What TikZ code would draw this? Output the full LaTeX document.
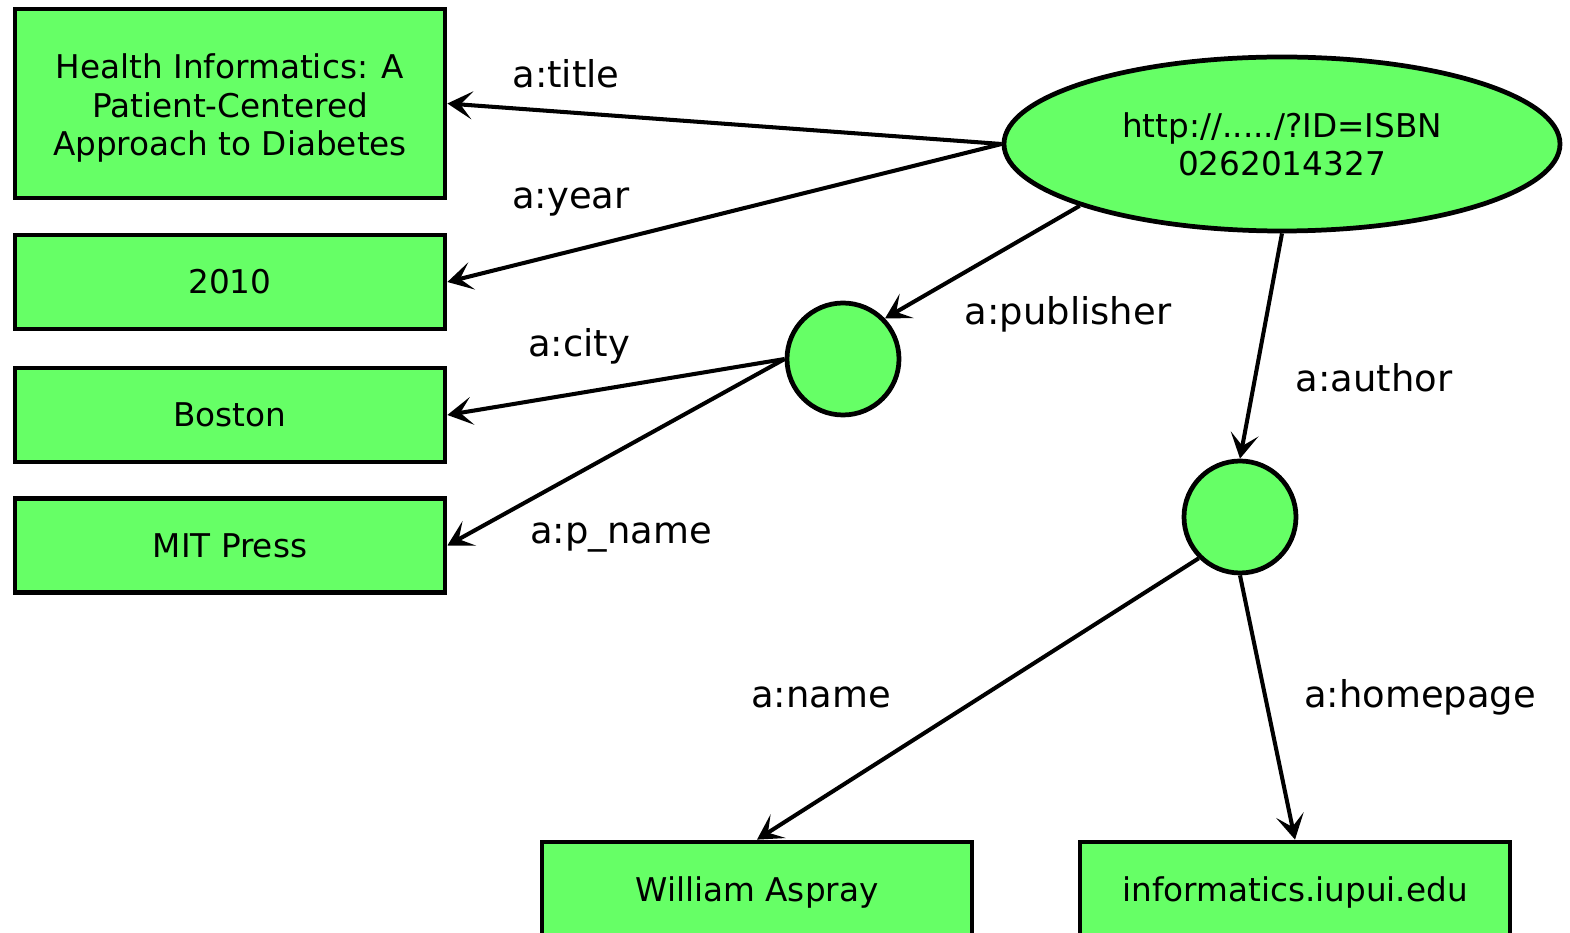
\documentclass[tikz,border=0pt]{standalone}
\usepackage{fontspec}
\setmainfont{DejaVu Sans}
\usetikzlibrary{arrows.meta,shapes.geometric}
\definecolor{nodegreen}{HTML}{66FF66}
\tikzset{
  litbox/.style={draw, fill=nodegreen, line width=1.35pt, rectangle,
    minimum width=4.3cm, minimum height=0.94cm, inner sep=0pt, align=center,
    font=\fontsize{9.3}{10.9}\selectfont},
  blank/.style={draw, fill=nodegreen, line width=1.35pt, circle,
    minimum size=1.12cm, inner sep=0pt},
  resource/.style={draw, fill=nodegreen, line width=1.35pt, ellipse,
    minimum width=5.56cm, minimum height=1.74cm, inner sep=0pt, align=center,
    font=\fontsize{9.3}{10.9}\selectfont},
  prop/.style={font=\fontsize{10.5}{12}\selectfont, inner sep=0pt},
  rel/.style={line width=1.15pt, -{Stealth[length=2.5mm,width=2.8mm,inset=1.2mm]}}
}
\begin{document}
\begin{tikzpicture}
\useasboundingbox (0,0) rectangle (15.7,-9.33);

% literal values
\node[litbox, minimum height=1.89cm] (title) at (2.30,-1.035)
  {\rule{0pt}{0.34cm}Health Informatics: A\\Patient-Centered\\Approach to Diabetes};
\node[litbox] (year) at (2.30,-2.82) {2010};
\node[litbox] (city) at (2.30,-4.15) {Boston};
\node[litbox] (pname) at (2.30,-5.455) {MIT Press};
\node[litbox, minimum height=1.0cm] (name) at (7.57,-8.92) {William Aspray};
\node[litbox, minimum height=1.0cm] (home) at (12.95,-8.92) {informatics.iupui.edu};

% resources
\node[resource] (book) at (12.82,-1.44) {http://...../?ID=ISBN\\0262014327};
\node[blank] (pub) at (8.43,-3.59) {};
\node[blank] (auth) at (12.40,-5.17) {};

% properties
\draw[rel] (book.west) -- (title.east);
\draw[rel] (book.west) -- (year.east);
\draw[rel] (book.197) -- (pub.44);
\draw[rel] (book.south) -- (auth.north);
\draw[rel] (pub.west) -- (city.east);
\draw[rel] (pub.west) -- (pname.east);
\draw[rel] (auth.225) -- (name.north);
\draw[rel] (auth.south) -- (home.north);

% property labels
\node[prop] (ltitle) at (5.66,-0.74) {a:title};
\node[prop] (lyear) at (5.71,-2.02) {a:year};
\node[prop] (lpub) at (10.68,-3.14) {a:publisher};
\node[prop] (lauth) at (13.74,-3.78) {a:author};
\node[prop] (lcity) at (5.79,-3.46) {a:city};
\node[prop] (lpname) at (6.21,-5.38) {a:p\_name};
\node[prop] (lname) at (8.21,-6.97) {a:name};
\node[prop] (lhome) at (14.20,-6.97) {a:homepage};
\end{tikzpicture}
\end{document}
